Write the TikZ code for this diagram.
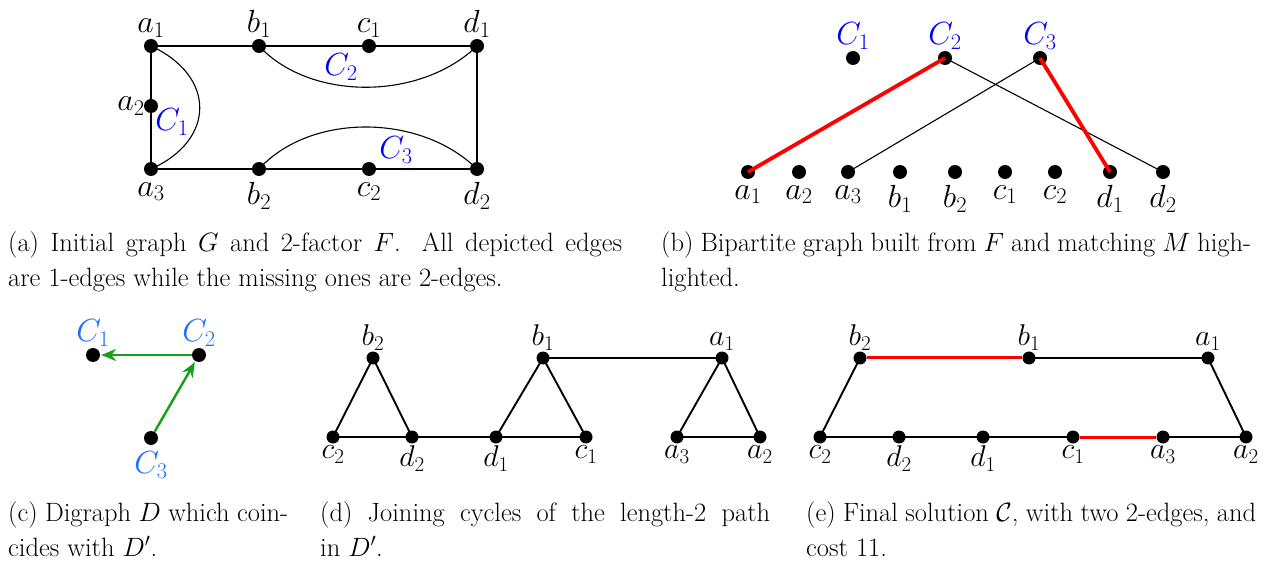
\RequirePackage{fix-cm}
\documentclass[tikz,border=0pt]{standalone}
\usetikzlibrary{arrows.meta}
\definecolor{cblue}{RGB}{0,0,255}
\definecolor{lblue}{RGB}{30,110,255}
\definecolor{dgreen}{RGB}{20,160,20}
\definecolor{hred}{RGB}{255,0,0}
\begin{document}
\begin{tikzpicture}[x=1pt,y=-1pt,
  dot/.style={circle,fill=black,inner sep=0pt,minimum size=14pt},
  sdot/.style={circle,fill=black,inner sep=0pt,minimum size=13pt},
  lab/.style={font=\fontsize{32}{32}\selectfont,inner sep=1pt},
  slab/.style={font=\fontsize{30}{30}\selectfont,inner sep=1pt},
  up/.style={label distance=0pt},
  dn/.style={label distance=5pt},
  sdn/.style={label distance=1pt},
  thinedge/.style={line width=1.1pt},
  medge/.style={line width=1.9pt},
  redge/.style={line width=3.8pt,hred},
  redgeb/.style={line width=3pt,hred},
  garrow/.style={line width=2.4pt,dgreen,-{Stealth[length=15pt,width=12pt,inset=5pt]},shorten >=1pt},
  captext/.style={anchor=base west,inner sep=0pt,align=justify,font=\fontsize{26.5}{35}\selectfont}
]
\useasboundingbox (0,0) rectangle (1267,561);
% ---------- (a) ----------
\node[dot,label={[lab,up]90:$a_1$}] (A1) at (151,46) {};
\node[dot,label={[lab,up]90:$b_1$}] (B1) at (259,46) {};
\node[dot,label={[lab,up]90:$c_1$}] (C1a) at (369,46) {};
\node[dot,label={[lab,up]90:$d_1$}] (D1) at (477,46) {};
\node[dot,label={[lab,label distance=-2pt]180:$a_2$}] (A2) at (151,106) {};
\node[dot,label={[lab,dn]-90:$a_3$}] (A3) at (151,169) {};
\node[dot,label={[lab,dn]-90:$b_2$}] (B2) at (259,169) {};
\node[dot,label={[lab,dn]-90:$c_2$}] (C2a) at (369,169) {};
\node[dot,label={[lab,dn]-90:$d_2$}] (D2) at (477,169) {};
\draw[thinedge] (A1) -- (B1) -- (C1a) -- (D1) -- (D2) -- (C2a) -- (B2) -- (A3) -- (A2) -- (A1);
\draw[thinedge] (A1.center) .. controls (216,76) and (216,140) .. (A3.center);
\draw[thinedge] (B1.center) .. controls (310,101) and (420,101) .. (D1.center);
\draw[thinedge] (B2.center) .. controls (310,113) and (420,113) .. (D2.center);
\node[lab,text=cblue] (LC1) at (172,122) {$C_1$};
\node[lab,text=cblue] (LC2) at (341,67) {$C_2$};
\node[lab,text=cblue] (LC3) at (396,150) {$C_3$};
% ---------- (b) ----------
\node[dot,label={[lab,text=cblue,up]90:$C_1$}] (P1) at (853,58) {};
\node[dot,label={[lab,text=cblue,up]90:$C_2$}] (P2) at (945,58) {};
\node[dot,label={[lab,text=cblue,up]90:$C_3$}] (P3) at (1040,58) {};
\node[dot,label={[lab,dn]-90:$a_1$}] (Qa1) at (748,172) {};
\node[dot,label={[lab,dn]-90:$a_2$}] (Qa2) at (799,172) {};
\node[dot,label={[lab,dn]-90:$a_3$}] (Qa3) at (848,172) {};
\node[dot,label={[lab,dn]-90:$b_1$}] (Qb1) at (900,172) {};
\node[dot,label={[lab,dn]-90:$b_2$}] (Qb2) at (955,172) {};
\node[dot,label={[lab,dn]-90:$c_1$}] (Qc1) at (1005,172) {};
\node[dot,label={[lab,dn]-90:$c_2$}] (Qc2) at (1055,172) {};
\node[dot,label={[lab,dn]-90:$d_1$}] (Qd1) at (1110,172) {};
\node[dot,label={[lab,dn]-90:$d_2$}] (Qd2) at (1163,172) {};
\draw[thinedge] (P2.center) -- (Qd2.center);
\draw[thinedge] (P3.center) -- (Qa3.center);
\draw[redge] (P2.center) -- (Qa1.center);
\draw[redge] (P3.center) -- (Qd1.center);
% ---------- (c) ----------
\node[dot,label={[lab,text=lblue,up]90:$C_1$}] (R1) at (93,355) {};
\node[dot,label={[lab,text=lblue,up]90:$C_2$}] (R2) at (199,355) {};
\node[dot,label={[lab,text=lblue,dn]-90:$C_3$}] (R3) at (151,438) {};
\draw[garrow] (R2) -- (R1);
\draw[garrow] (R3) -- (R2);
% ---------- (d) ----------
\node[sdot,label={[slab,up]90:$b_2$}] (Sb2) at (373,358) {};
\node[sdot,label={[slab,sdn]-90:$c_2$}] (Sc2) at (333,437) {};
\node[sdot,label={[slab,sdn]-90:$d_2$}] (Sd2) at (412,437) {};
\node[sdot,label={[slab,sdn]-90:$d_1$}] (Sd1) at (496,437) {};
\node[sdot,label={[slab,sdn]-90:$c_1$}] (Sc1) at (586,437) {};
\node[sdot,label={[slab,up]90:$b_1$}] (Sb1) at (543,358) {};
\node[sdot,label={[slab,up]90:$a_1$}] (Sa1) at (722,358) {};
\node[sdot,label={[slab,sdn]-90:$a_3$}] (Sa3) at (677,437) {};
\node[sdot,label={[slab,sdn]-90:$a_2$}] (Sa2) at (760,437) {};
\draw[medge] (Sb2.center) -- (Sc2.center) -- (Sd2.center) -- (Sb2.center);
\draw[medge] (Sd2.center) -- (Sd1.center);
\draw[medge] (Sb1.center) -- (Sd1.center) -- (Sc1.center) -- (Sb1.center);
\draw[medge] (Sb1.center) -- (Sa1.center);
\draw[medge] (Sa1.center) -- (Sa3.center) -- (Sa2.center) -- (Sa1.center);
% ---------- (e) ----------
\node[sdot,label={[slab,up]90:$b_2$}] (Tb2) at (860,358) {};
\node[sdot,label={[slab,up]90:$b_1$}] (Tb1) at (1029,358) {};
\node[sdot,label={[slab,up]90:$a_1$}] (Ta1) at (1208,358) {};
\node[sdot,label={[slab,sdn]-90:$c_2$}] (Tc2) at (820,437) {};
\node[sdot,label={[slab,sdn]-90:$d_2$}] (Td2) at (899,437) {};
\node[sdot,label={[slab,sdn]-90:$d_1$}] (Td1) at (983,437) {};
\node[sdot,label={[slab,sdn]-90:$c_1$}] (Tc1) at (1073,437) {};
\node[sdot,label={[slab,sdn]-90:$a_3$}] (Ta3) at (1163,437) {};
\node[sdot,label={[slab,sdn]-90:$a_2$}] (Ta2) at (1246,437) {};
\draw[medge] (Tb1.center) -- (Ta1.center) -- (Ta2.center) -- (Ta3.center);
\draw[medge] (Tc1.center) -- (Td1.center) -- (Td2.center) -- (Tc2.center) -- (Tb2.center);
\draw[redgeb] (Tb2) -- (Tb1);
\draw[redgeb] (Tc1) -- (Ta3);
% ---------- captions ----------
\node[captext,text width=614pt] (capa) at (8,252) {(a) Initial graph $G$ and 2-factor $F$. All depicted edges\linebreak are 1-edges while the missing ones are 2-edges.};
\node[captext,text width=590pt] (capb) at (661,252) {(b) Bipartite graph built from $F$ and matching $M$ high-\linebreak lighted.};
\node[captext,text width=280pt] (capc) at (8,521) {(c) Digraph $D$ which coin-\linebreak cides with $D'$.};
\node[captext,text width=450pt] (capd) at (320,521) {(d) Joining cycles of the length-2 path\linebreak in $D'$.};
\node[captext,text width=450pt] (cape) at (806,521) {(e) Final solution $\mathcal{C}$, with two 2-edges, and\linebreak cost 11.};
\end{tikzpicture}
\end{document}
